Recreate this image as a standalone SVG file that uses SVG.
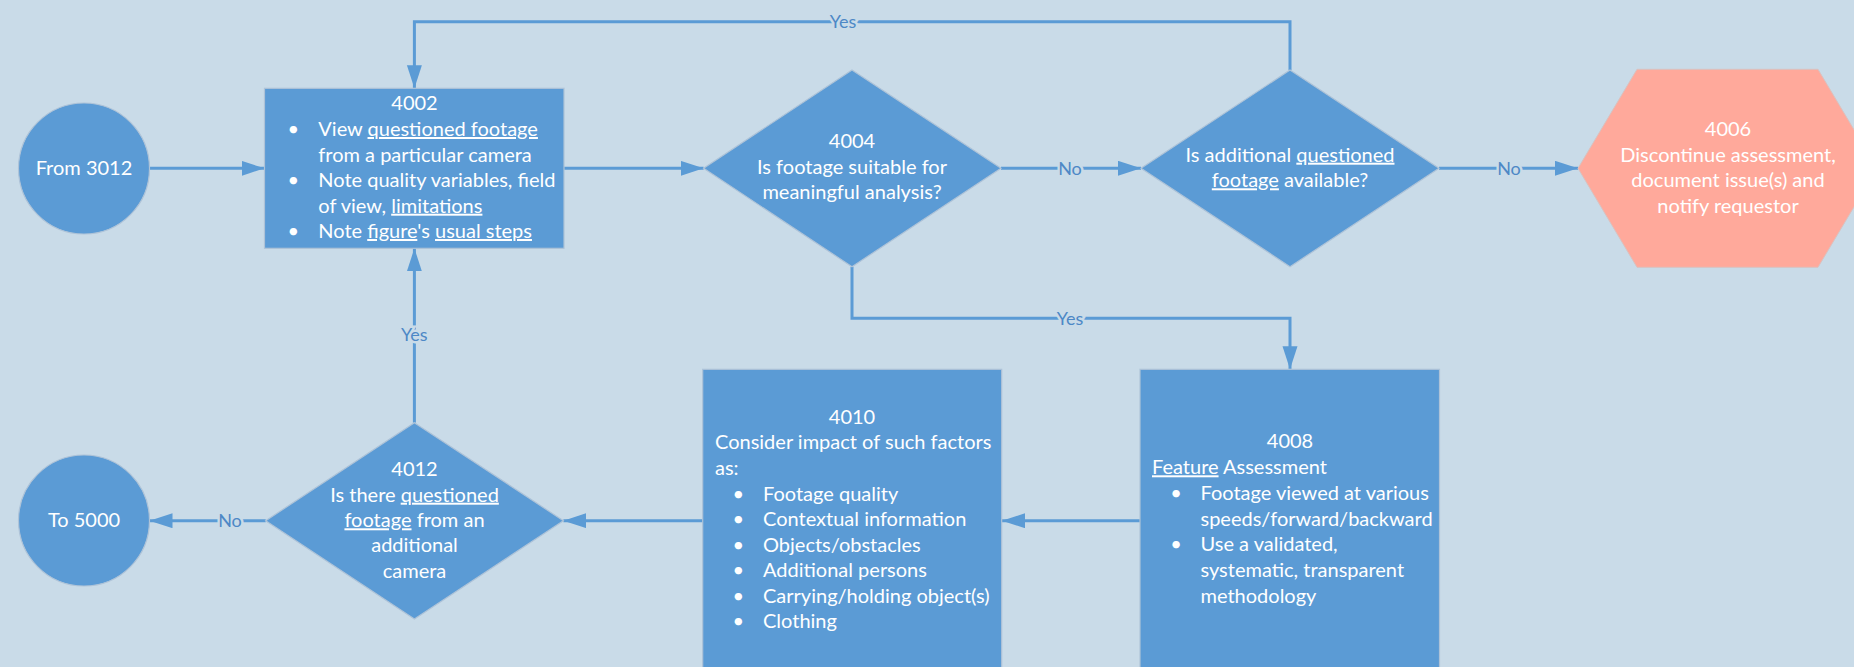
<svg xmlns="http://www.w3.org/2000/svg" width="1854" height="667" viewBox="0 0 1854 667">
  <style>
    .node { fill: #5b9bd5; stroke: #aec3d8; stroke-width: 1.2; }
    .term { fill: #ffa99b; stroke: #d9c2c0; stroke-width: 1; }
    .t { font-family: Lato, "Liberation Sans", sans-serif; font-size: 20px; fill: #ffffff; }
    .c { text-anchor: middle; }
    .u { text-decoration: underline; }
    .edge { fill: none; stroke: #5b9bd5; stroke-width: 3; }
    .lbl { font-family: Lato, "Liberation Sans", sans-serif; font-size: 18px; fill: #4d88c6; text-anchor: middle; stroke: #c9dbe8; stroke-width: 5; paint-order: stroke; }
  </style>
  <defs>
    <marker id="arrow" markerUnits="userSpaceOnUse" markerWidth="24" markerHeight="16" refX="23" refY="7.5" orient="auto">
      <path d="M0,0 L23,7.5 L0,15 z" fill="#5b9bd5"/>
    </marker>
  </defs>

  <rect width="1854" height="667" fill="#c9dbe8"/>

  <!-- connectors -->
  <g id="connectors">
    <path class="edge" d="M149.5,168.3 H264.5" marker-end="url(#arrow)"/>
    <path class="edge" d="M564,168.3 H703.6" marker-end="url(#arrow)"/>
    <path class="edge" d="M1001,168.3 H1141" marker-end="url(#arrow)"/>
    <path class="edge" d="M1439,168.3 H1578" marker-end="url(#arrow)"/>
    <path class="edge" d="M1290,70 V21.7 H414.4 V88.3" marker-end="url(#arrow)"/>
    <path class="edge" d="M852,266.7 V318.3 H1290 V369.3" marker-end="url(#arrow)"/>
    <path class="edge" d="M1140,520.7 H1002" marker-end="url(#arrow)"/>
    <path class="edge" d="M703,520.7 H563.4" marker-end="url(#arrow)"/>
    <path class="edge" d="M265.7,520.7 H149.5" marker-end="url(#arrow)"/>
    <path class="edge" d="M414.4,422.7 V248.3" marker-end="url(#arrow)"/>
    <text class="lbl" x="843" y="27.5">Yes</text>
    <text class="lbl" x="1070" y="174.5">No</text>
    <text class="lbl" x="1509" y="174.5">No</text>
    <text class="lbl" x="1070" y="324.5">Yes</text>
    <text class="lbl" x="414.4" y="340.5">Yes</text>
    <text class="lbl" x="230" y="526.7">No</text>
  </g>

  <!-- From 3012 -->
  <g id="from3012">
    <circle class="node" cx="84" cy="168.5" r="65.5"/>
    <text class="t c" x="84" y="175">From 3012</text>
  </g>

  <!-- 4002 -->
  <g id="n4002">
    <rect class="node" x="264.5" y="88.3" width="299.5" height="160"/>
    <text class="t c" x="414.5" y="110">4002</text>
    <text class="t c" x="293.4" y="136">•</text>
    <text class="t c" x="293.4" y="187">•</text>
    <text class="t c" x="293.4" y="238">•</text>
    <text class="t" x="318.3" y="136">View <tspan class="u">questioned footage</tspan></text>
    <text class="t" x="318.3" y="161.7">from a particular camera</text>
    <text class="t" x="318.3" y="187">Note quality variables, field</text>
    <text class="t" x="318.3" y="212.7">of view, <tspan class="u">limitations</tspan></text>
    <text class="t" x="318.3" y="238">Note <tspan class="u">figure</tspan>'s <tspan class="u">usual steps</tspan></text>
  </g>

  <!-- 4004 -->
  <g id="n4004">
    <polygon class="node" points="852,70 1001,168.3 852,266.7 703.6,168.3"/>
    <text class="t c" x="852" y="148.3">4004</text>
    <text class="t c" x="852" y="174">Is footage suitable for</text>
    <text class="t c" x="852" y="199.3">meaningful analysis?</text>
  </g>

  <!-- additional footage decision -->
  <g id="nAdditional">
    <polygon class="node" points="1290,70 1439,168.3 1290,266.7 1141,168.3"/>
    <text class="t c" x="1290" y="161.7">Is additional <tspan class="u">questioned</tspan></text>
    <text class="t c" x="1290" y="187.3"><tspan class="u">footage</tspan> available?</text>
  </g>

  <!-- 4006 -->
  <g id="n4006">
    <polygon class="term" points="1578,168.3 1637,69.3 1818,69.3 1877,168.3 1818,267.3 1637,267.3"/>
    <text class="t c" x="1728" y="136">4006</text>
    <text class="t c" x="1728" y="161.7">Discontinue assessment,</text>
    <text class="t c" x="1728" y="187.3">document issue(s) and</text>
    <text class="t c" x="1728" y="212.7">notify requestor</text>
  </g>

  <!-- 4008 -->
  <g id="n4008">
    <rect class="node" x="1140" y="369.3" width="299.5" height="310"/>
    <text class="t c" x="1290" y="448.3">4008</text>
    <text class="t" x="1152" y="474.3"><tspan class="u">Feature</tspan> Assessment</text>
    <text class="t c" x="1176" y="500">•</text>
    <text class="t c" x="1176" y="551.3">•</text>
    <text class="t" x="1200.5" y="500">Footage viewed at various</text>
    <text class="t" x="1200.5" y="525.7">speeds/forward/backward</text>
    <text class="t" x="1200.5" y="551.3">Use a validated,</text>
    <text class="t" x="1200.5" y="577">systematic, transparent</text>
    <text class="t" x="1200.5" y="602.7">methodology</text>
  </g>

  <!-- 4010 -->
  <g id="n4010">
    <rect class="node" x="702.7" y="369.3" width="299" height="310"/>
    <text class="t c" x="852" y="424">4010</text>
    <text class="t" x="715" y="449.3">Consider impact of such factors</text>
    <text class="t" x="715" y="475">as:</text>
    <text class="t c" x="738.4" y="500.7">•</text>
    <text class="t c" x="738.4" y="526">•</text>
    <text class="t c" x="738.4" y="551.7">•</text>
    <text class="t c" x="738.4" y="577.3">•</text>
    <text class="t c" x="738.4" y="602.7">•</text>
    <text class="t c" x="738.4" y="628.3">•</text>
    <text class="t" x="763" y="500.7">Footage quality</text>
    <text class="t" x="763" y="526">Contextual information</text>
    <text class="t" x="763" y="551.7">Objects/obstacles</text>
    <text class="t" x="763" y="577.3">Additional persons</text>
    <text class="t" x="763" y="602.7">Carrying/holding object(s)</text>
    <text class="t" x="763" y="628.3">Clothing</text>
  </g>

  <!-- 4012 -->
  <g id="n4012">
    <polygon class="node" points="414.4,422.7 563.4,520.7 414.4,619 265.7,520.7"/>
    <text class="t c" x="414.5" y="475.7">4012</text>
    <text class="t c" x="414.5" y="501.7">Is there <tspan class="u">questioned</tspan></text>
    <text class="t c" x="414.5" y="527.3"><tspan class="u">footage</tspan> from an</text>
    <text class="t c" x="414.5" y="552.3">additional</text>
    <text class="t c" x="414.5" y="578.3">camera</text>
  </g>

  <!-- To 5000 -->
  <g id="to5000">
    <circle class="node" cx="84" cy="520.5" r="65.5"/>
    <text class="t c" x="84" y="526.7">To 5000</text>
  </g>
</svg>
